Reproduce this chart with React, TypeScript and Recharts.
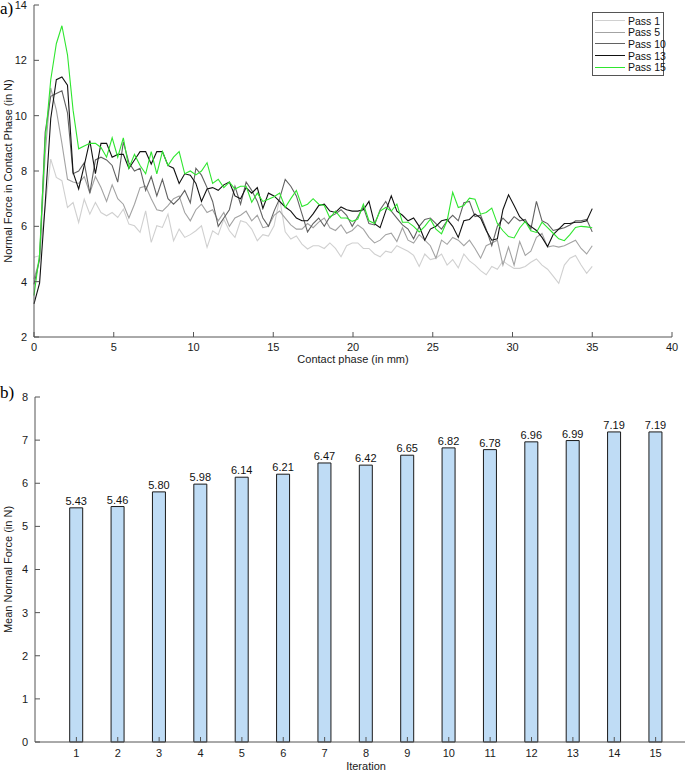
import { LineChart, Line, XAxis, YAxis, Legend, BarChart, Bar, LabelList } from "recharts";

const FONT = '"Liberation Sans", Arial, sans-serif';
const AXIS = "#555";

// contact phase is sampled every 0.35 mm (0 .. 35 mm)
const STEP_MM = 0.35;

const pass1 = [
  4.88, 4.94, 6.68, 8.43, 7.77, 7.65, 6.68, 6.86, 6.14, 6.98,
  6.44, 6.86, 6.5, 6.38, 6.5, 6.32, 6.62, 6.08, 6.02, 5.78,
  6.56, 5.42, 6.02, 5.96, 6.44, 5.48, 5.9, 5.6, 5.7, 5.84,
  6.02, 5.24, 5.84, 5.7, 6.26, 5.84, 5.6, 6.2, 6.14, 5.9,
  5.48, 5.7, 5.65, 6.02, 7.0, 5.8, 5.54, 5.65, 5.36, 5.18,
  5.3, 5.3, 5.2, 5.4, 5.2, 4.9, 5.3, 5.4, 5.4, 5.2,
  5.2, 5.0, 4.9, 5.1, 5.05, 5.3, 5.2, 5.1, 4.95, 4.55,
  5.0, 4.8, 4.85, 5.0, 4.6, 4.8, 4.5, 5.0, 4.75, 4.6,
  4.4, 4.25, 4.55, 4.45, 4.75, 4.6, 4.48, 4.48, 4.55, 4.7,
  4.82, 4.6, 4.45, 4.2, 3.94, 4.6, 4.85, 4.95, 4.6, 4.3,
  4.55,
];

const pass5 = [
  4.1, 4.8, 8.6, 11.0, 10.2, 9.0, 7.7, 7.6, 7.55, 7.8,
  7.2, 7.8, 7.4, 6.9, 7.5, 7.0, 6.8, 6.3, 6.8, 7.4,
  7.45, 7.0, 6.6, 6.55, 6.75, 7.0, 7.1, 6.5, 6.2, 6.6,
  6.8, 6.5, 6.6, 6.2, 6.5, 6.0, 6.3, 6.4, 6.55, 6.2,
  6.4, 5.95, 6.0, 6.4, 6.55, 6.3, 6.05, 5.9, 5.9, 6.1,
  5.95, 6.15, 6.3, 5.95, 5.85, 6.05, 5.75, 5.85, 6.05, 5.9,
  5.6, 5.4, 5.5, 5.7, 5.75, 5.45, 5.95, 5.5, 5.4, 5.7,
  5.5, 5.3, 4.85, 5.5, 5.35, 5.6, 5.5, 5.3, 5.5, 5.2,
  4.85, 5.3, 5.4, 5.5, 4.6, 5.25, 4.6, 5.45, 4.95, 5.1,
  5.6, 5.75, 5.25, 5.3, 5.25, 5.3, 5.4, 5.5, 5.2, 5.0,
  5.3,
];

const pass10 = [
  3.9, 4.8, 9.4, 10.7, 10.8, 10.9, 10.1, 7.9, 8.0, 8.3,
  7.2, 8.4, 8.5, 8.4, 8.2, 7.6, 9.05, 8.3, 8.0, 8.1,
  7.3, 7.8, 7.1, 7.7, 7.0, 6.8, 7.0, 7.3, 6.85, 8.1,
  7.85, 7.4, 6.9, 6.0, 6.3, 6.6, 7.45, 6.8, 7.6, 7.3,
  6.9, 6.3, 6.0, 6.55, 7.0, 7.7, 7.45, 7.1, 6.45, 5.8,
  6.1, 6.3, 6.0, 6.35, 6.45, 6.6, 6.4, 6.0, 6.35, 6.7,
  6.1, 6.05, 6.6, 6.9, 6.55, 6.3, 6.05, 5.9, 5.55, 6.0,
  6.25, 6.3, 6.1, 5.9, 6.2, 6.4, 6.2, 6.85, 6.9, 6.35,
  6.4, 5.9, 5.3, 6.0, 6.3, 6.1, 6.35, 6.2, 6.25, 5.9,
  6.9, 6.2, 6.1, 5.85, 5.9, 5.95, 6.05, 6.2, 6.2, 6.25,
  5.8,
];

const pass13 = [
  3.2, 3.95, 6.8, 9.9, 11.3, 11.4, 11.1, 7.95, 7.35, 8.2,
  9.1, 7.9, 9.0, 9.0, 8.5, 8.6, 8.6, 8.1, 8.4, 8.7,
  8.7, 8.25, 8.7, 8.7, 8.2, 8.1, 7.55, 7.9, 7.85, 7.55,
  6.9, 7.35, 7.4, 7.3, 7.5, 7.6, 7.1, 7.0, 7.4, 7.2,
  7.4, 6.65, 7.2, 7.1, 6.9, 6.7, 6.55, 6.3, 6.2, 6.2,
  6.45, 6.75, 6.8, 6.55, 6.5, 6.7, 6.6, 6.55, 6.55, 6.6,
  6.9, 6.1, 5.95, 6.55, 7.1, 6.55, 6.4, 6.2, 6.3, 6.0,
  5.5, 5.9, 6.0, 6.2, 6.25, 6.0, 5.6, 6.2, 6.25, 6.45,
  6.3, 5.85, 5.5, 5.55, 6.6, 7.14, 6.75, 6.35, 6.15, 6.0,
  5.85, 5.6, 5.27, 5.7, 5.9, 6.1, 6.1, 6.15, 6.15, 6.2,
  6.64,
];

const pass15 = [
  3.5, 5.0, 9.1, 11.3, 12.6, 13.25, 12.2, 10.2, 8.8, 8.9,
  9.0, 9.0, 8.85, 8.5, 9.2, 8.5, 9.2, 8.1, 8.6, 8.2,
  7.9, 8.7, 7.9, 8.7, 8.2, 8.5, 8.7, 7.9, 8.0, 7.86,
  8.0, 8.3, 7.55, 7.7, 7.4, 7.6, 7.35, 7.45, 7.45, 6.87,
  7.2, 6.9, 6.98, 7.07, 7.2, 6.68, 7.0, 7.3, 6.72, 6.8,
  7.0, 6.8, 6.75, 6.3, 6.55, 6.3, 6.3, 6.18, 6.26, 6.8,
  6.2, 6.1, 6.55, 6.68, 6.55, 6.8, 6.15, 6.15, 6.0, 5.8,
  6.0, 6.26, 5.9, 5.73, 6.2, 7.23, 6.68, 6.75, 7.02, 6.98,
  6.44, 6.5, 6.66, 6.1, 5.84, 5.63, 5.58, 5.94, 6.18, 5.84,
  5.78, 6.15, 5.95, 5.75, 5.55, 5.48, 5.7, 5.96, 6.0, 5.98,
  5.95,
];

const passNames = ["Pass 1", "Pass 5", "Pass 10", "Pass 13", "Pass 15"];
const passKeys = ["p1", "p5", "p10", "p13", "p15"];
const passColors = ["#d0d0d0", "#a3a3a3", "#626262", "#111111", "#2fe62f"];

const contactTicks = [0, 5, 10, 15, 20, 25, 30, 35, 40];
const forceTicks = [2, 4, 6, 8, 10, 12, 14];

const iterations = [1, 2, 3, 4, 5, 6, 7, 8, 9, 10, 11, 12, 13, 14, 15];
const meanForce = [5.43, 5.46, 5.8, 5.98, 6.14, 6.21, 6.47, 6.42, 6.65, 6.82, 6.78, 6.96, 6.99, 7.19, 7.19];
const meanTicks = [0, 1, 2, 3, 4, 5, 6, 7, 8];

const lineData = pass1.map((v, i) => ({
  x: +(i * STEP_MM).toFixed(2),
  p1: v,
  p5: pass5[i],
  p10: pass10[i],
  p13: pass13[i],
  p15: pass15[i],
}));

const barData = iterations.map((it, i) => ({ it, mean: meanForce[i] }));

const tickStyle = { fontSize: 11, fill: "#1a1a1a", fontFamily: FONT };

// no labels on the mirrored top/right axes, only the inward tick marks
const noLabel = () => <g />;

const yTitle = (text: string) => (props: any) => {
  const vb = props.viewBox || {};
  const cy = vb.y + vb.height / 2;
  return (
    <text x={7.5} y={cy} transform={`rotate(-90 7.5 ${cy})`} textAnchor="middle" dominantBaseline="central"
      fontSize={11} fill="#1a1a1a" fontFamily={FONT}>
      {text}
    </text>
  );
};

const PassLegend = () => (
  <div style={{ border: `1px solid ${AXIS}`, background: "#fff", padding: 2, width: 72, boxSizing: "border-box", fontFamily: FONT }}>
    {passNames.map((n, i) => (
      <div key={n} style={{ display: "flex", alignItems: "center", height: 11.6, fontSize: 10.5, color: "#111", whiteSpace: "nowrap" }}>
        <span style={{ display: "inline-block", flex: "0 0 30px", height: 0, borderTop: `1.3px solid ${passColors[i]}`, marginRight: 3 }} />
        <span>{n}</span>
      </div>
    ))}
  </div>
);

export default function App() {
  return (
    <div style={{ position: "absolute", left: 0, top: 0, width: 685, height: 772, overflow: "hidden", background: "#fff", fontFamily: FONT }}>
      <div style={{ position: "absolute", left: 0, top: 0 }}>
        <LineChart width={685} height={368} data={lineData} margin={{ top: 5, right: 13, bottom: 0, left: 0 }}>
          <XAxis dataKey="x" type="number" domain={[0, 40]} ticks={contactTicks} interval={0}
            height={31} tickSize={-5} tickMargin={11} stroke={AXIS} tick={tickStyle}
            label={{ value: "Contact phase (in mm)", position: "insideBottom", offset: 5, fontSize: 11, fill: "#1a1a1a", fontFamily: FONT }} />
          <XAxis xAxisId="top" orientation="top" type="number" domain={[0, 40]} ticks={contactTicks} interval={0}
            height={0} tickSize={-5} stroke={AXIS} tick={noLabel} />
          <YAxis type="number" domain={[2, 14]} ticks={forceTicks} interval={0} width={34}
            tickSize={-5} tickMargin={12} stroke={AXIS} tick={tickStyle}
            label={yTitle("Normal Force in Contact Phase (in N)")} />
          <YAxis yAxisId="right" orientation="right" type="number" domain={[2, 14]} ticks={forceTicks} interval={0}
            width={0} tickSize={-5} stroke={AXIS} tick={noLabel} />
          {passKeys.map((k, i) => (
            <Line key={k} dataKey={k} name={passNames[i]} type="linear" stroke={passColors[i]} strokeWidth={1.1}
              dot={false} isAnimationActive={false} />
          ))}
          <Legend layout="vertical" align="center" verticalAlign="middle" content={<PassLegend />}
            wrapperStyle={{ top: 12, left: 592, width: 72, height: 62 }} />
        </LineChart>
      </div>

      <div style={{ position: "absolute", left: 0, top: 368 }}>
        <BarChart width={697} height={404} data={barData} margin={{ top: 29, right: 0, bottom: 0, left: 0 }}>
          <XAxis dataKey="it" type="number" domain={[0, 16]} ticks={iterations} interval={0}
            height={30} tickSize={-5} tickMargin={12} stroke={AXIS} tick={tickStyle}
            label={{ value: "Iteration", position: "insideBottom", offset: 2, fontSize: 11, fill: "#1a1a1a", fontFamily: FONT }} />
          <XAxis xAxisId="top" orientation="top" type="number" domain={[0, 16]} ticks={iterations} interval={0}
            height={0} tickSize={-5} stroke={AXIS} tick={noLabel} />
          <YAxis type="number" domain={[0, 8]} ticks={meanTicks} interval={0} width={35}
            tickSize={-5} tickMargin={12} stroke={AXIS} tick={tickStyle}
            label={yTitle("Mean Normal Force (in N)")} />
          <YAxis yAxisId="right" orientation="right" type="number" domain={[0, 8]} ticks={meanTicks} interval={0}
            width={0} tickSize={-5} stroke={AXIS} tick={noLabel} />
          <Bar dataKey="mean" barSize={13} fill="#bfdcf5" stroke="#1a1a1a" strokeWidth={1} isAnimationActive={false}>
            <LabelList dataKey="mean" position="top" offset={3}
              formatter={(v: any) => Number(v).toFixed(2)}
              style={{ fontSize: 11, fill: "#111", fontFamily: FONT }} />
          </Bar>
        </BarChart>
      </div>

      <div style={{ position: "absolute", left: 0, top: 0, lineHeight: "17px", fontFamily: '"Liberation Serif", "Times New Roman", serif', fontSize: 17 }}>a)</div>
      <div style={{ position: "absolute", left: 0, top: 384, lineHeight: "17px", fontFamily: '"Liberation Serif", "Times New Roman", serif', fontSize: 17 }}>b)</div>
    </div>
  );
}
